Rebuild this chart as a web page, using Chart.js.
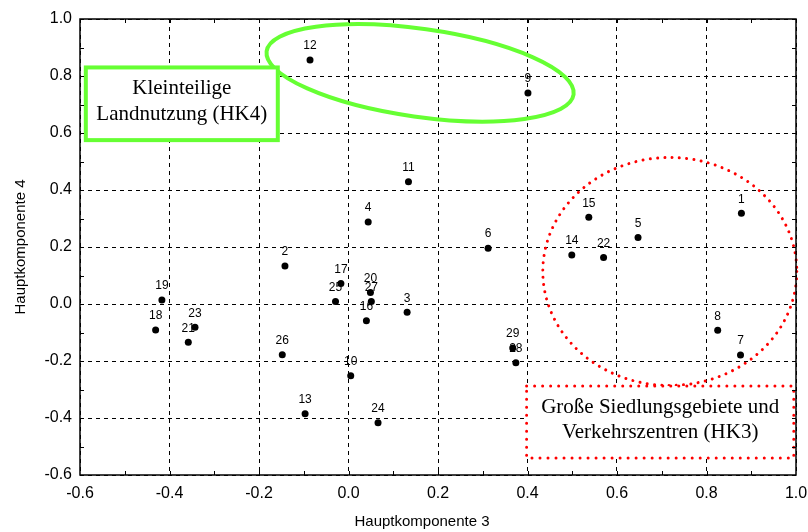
<!DOCTYPE html>
<html>
<head>
<meta charset="utf-8">
<script src="https://cdn.jsdelivr.net/npm/chart.js@4"></script>
<style>
  html, body { margin: 0; padding: 0; background: #fff; }
  #wrap { width: 808px; height: 532px; }
</style>
</head>
<body>
<div id="wrap"><canvas id="pcaChart" width="808" height="532"></canvas></div>
<script>
// point ids and scores (Hauptkomponente 3 / 4)
const pointIds = ["1","2","3","4","5","6","7","8","9","10","11","12","13","14","15",
                  "16","17","18","19","20","21","22","23","24","25","26","27","28","29"];
const hk3Values = [0.878, -0.142, 0.131, 0.044, 0.647, 0.312, 0.876, 0.825, 0.401, 0.005,
                   0.134, -0.086, -0.097, 0.499, 0.537, 0.040, -0.017, -0.431, -0.417, 0.049,
                   -0.358, 0.570, -0.343, 0.066, -0.029, -0.148, 0.051, 0.374, 0.367];
const hk4Values = [0.318, 0.133, -0.029, 0.288, 0.233, 0.196, -0.179, -0.092, 0.740, -0.252,
                   0.429, 0.856, -0.385, 0.172, 0.304, -0.059, 0.072, -0.091, 0.014, 0.040,
                   -0.134, 0.163, -0.082, -0.417, 0.009, -0.178, 0.009, -0.206, -0.154];

const axisMin = -0.6;
const axisMax = 1.0;
const axisStep = 0.2;
const xTitle = "Hauptkomponente 3";
const yTitle = "Hauptkomponente 4";

const green = "#66ff33";
const red = "#ff0000";
const sansFont = "'Liberation Sans', Arial, sans-serif";
const serifFont = "'Liberation Serif', 'Times New Roman', serif";

function fmt(v){
	if(Math.abs(v) < 1e-9) v = 0;
	return v.toFixed(1);
}

const points = hk3Values.map((x, i) => ({x: x, y: hk4Values[i]}));

// ellipses, boxes, frame, minor ticks, labels, axis titles
const annotations = {
	id: "annotations",
	beforeDatasetsDraw(chart){
		const ctx = chart.ctx;
		const sx = chart.scales.x, sy = chart.scales.y;
		ctx.save();

		// green ellipse round points 12 and 9
		ctx.beginPath();
		ctx.ellipse(sx.getPixelForValue(0.160), sy.getPixelForValue(0.811), 155, 44, 8 * Math.PI / 180, 0, Math.PI * 2);
		ctx.strokeStyle = green;
		ctx.lineWidth = 4;
		ctx.stroke();

		// red dotted circle
		ctx.beginPath();
		ctx.ellipse(sx.getPixelForValue(0.718), sy.getPixelForValue(0.114), 127, 114, 0, 0, Math.PI * 2);
		ctx.strokeStyle = red;
		ctx.lineWidth = 3;
		ctx.lineCap = "round";
		ctx.setLineDash([0.01, 7.3]);
		ctx.stroke();
		ctx.setLineDash([]);

		// green box
		drawBox(ctx, sx, sy, -0.587, -0.158, 0.830, 0.575, green, false,
			["Kleinteilige", "Landnutzung (HK4)"], 26);
		// red dotted box
		drawBox(ctx, sx, sy, 0.398, 0.995, -0.288, -0.540, red, true,
			["Große Siedlungsgebiete und", "Verkehrszentren (HK3)"], 25);

		ctx.restore();
	},
	afterDatasetsDraw(chart){
		const ctx = chart.ctx;
		const meta = chart.getDatasetMeta(0);
		ctx.save();
		ctx.fillStyle = "#000";
		ctx.font = "12px " + sansFont;
		ctx.textAlign = "center";
		ctx.textBaseline = "middle";
		meta.data.forEach((pt, i) => {
			ctx.fillText(pointIds[i], pt.x, pt.y - 14);
		});
		ctx.restore();
	},
	afterDraw(chart){
		const ctx = chart.ctx;
		const a = chart.chartArea;
		const sx = chart.scales.x, sy = chart.scales.y;
		ctx.save();
		ctx.strokeStyle = "#000";
		ctx.lineWidth = 1.5;
		ctx.strokeRect(a.left, a.top, a.right - a.left, a.bottom - a.top);

		// inward minor ticks every 0.1
		ctx.lineWidth = 1;
		ctx.beginPath();
		for(let k = 1; k < 16; k++){
			const v = axisMin + k * 0.1;
			const px = Math.round(sx.getPixelForValue(v)) + 0.5;
			const py = Math.round(sy.getPixelForValue(v)) + 0.5;
			ctx.moveTo(px, a.bottom); ctx.lineTo(px, a.bottom - 4);
			ctx.moveTo(px, a.top); ctx.lineTo(px, a.top + 4);
			ctx.moveTo(a.left, py); ctx.lineTo(a.left + 4, py);
			ctx.moveTo(a.right, py); ctx.lineTo(a.right - 4, py);
		}
		ctx.stroke();

		// axis titles
		ctx.fillStyle = "#000";
		ctx.font = "15px " + sansFont;
		ctx.textAlign = "center";
		ctx.textBaseline = "middle";
		ctx.fillText(xTitle, (a.left + a.right) / 2 - 16, 522);
		ctx.translate(21, (a.top + a.bottom) / 2);
		ctx.rotate(-Math.PI / 2);
		ctx.fillText(yTitle, 0, 0);
		ctx.restore();
	}
};

function drawBox(ctx, sx, sy, x0, x1, y0, y1, color, dotted, lines, lineGap){
	const left = sx.getPixelForValue(x0), right = sx.getPixelForValue(x1);
	const top = sy.getPixelForValue(y0), bottom = sy.getPixelForValue(y1);
	ctx.fillStyle = "#fff";
	ctx.fillRect(left, top, right - left, bottom - top);
	ctx.strokeStyle = color;
	if(dotted){
		ctx.lineWidth = 3;
		ctx.lineCap = "round";
		ctx.setLineDash([0.01, 8]);
	}
	else{
		ctx.lineWidth = 4;
		ctx.lineCap = "butt";
		ctx.setLineDash([]);
	}
	ctx.strokeRect(left, top, right - left, bottom - top);
	ctx.setLineDash([]);

	ctx.fillStyle = "#000";
	ctx.font = "21px " + serifFont;
	ctx.textAlign = "center";
	ctx.textBaseline = "middle";
	const cx = (left + right) / 2;
	const cy = (top + bottom) / 2 - 2;
	lines.forEach((t, i) => {
		ctx.fillText(t, cx, cy + (i - (lines.length - 1) / 2) * lineGap);
	});
}

const ctx = document.getElementById("pcaChart").getContext("2d");
new Chart(ctx, {
	type: "scatter",
	data: {
		datasets: [{
			data: points,
			backgroundColor: "#000",
			borderWidth: 0,
			pointRadius: 3.5,
			pointHoverRadius: 3.5
		}]
	},
	options: {
		responsive: false,
		animation: false,
		devicePixelRatio: 1,
		layout: { padding: { left: 0, top: 19, right: 12, bottom: 0 } },
		plugins: {
			legend: { display: false },
			tooltip: { enabled: false }
		},
		scales: {
			x: {
				type: "linear",
				min: axisMin,
				max: axisMax,
				ticks: {
					stepSize: axisStep,
					callback: v => fmt(v),
					color: "#000",
					font: { family: sansFont, size: 16 },
					padding: 9,
					maxRotation: 0
				},
				grid: { color: "#000", lineWidth: 1, drawTicks: false },
				border: { display: false, dash: [4, 4] },
				afterFit(scale){
					scale.height = 57;
					scale.paddingLeft = 0;
					scale.paddingRight = 0;
				}
			},
			y: {
				type: "linear",
				min: axisMin,
				max: axisMax,
				ticks: {
					stepSize: axisStep,
					callback: v => fmt(v),
					color: "#000",
					font: { family: sansFont, size: 16 },
					padding: 8
				},
				grid: { color: "#000", lineWidth: 1, drawTicks: false },
				border: { display: false, dash: [4, 4] },
				afterFit(scale){
					scale.width = 80;
					scale.paddingTop = 0;
					scale.paddingBottom = 0;
				}
			}
		}
	},
	plugins: [annotations]
});
</script>
</body>
</html>
